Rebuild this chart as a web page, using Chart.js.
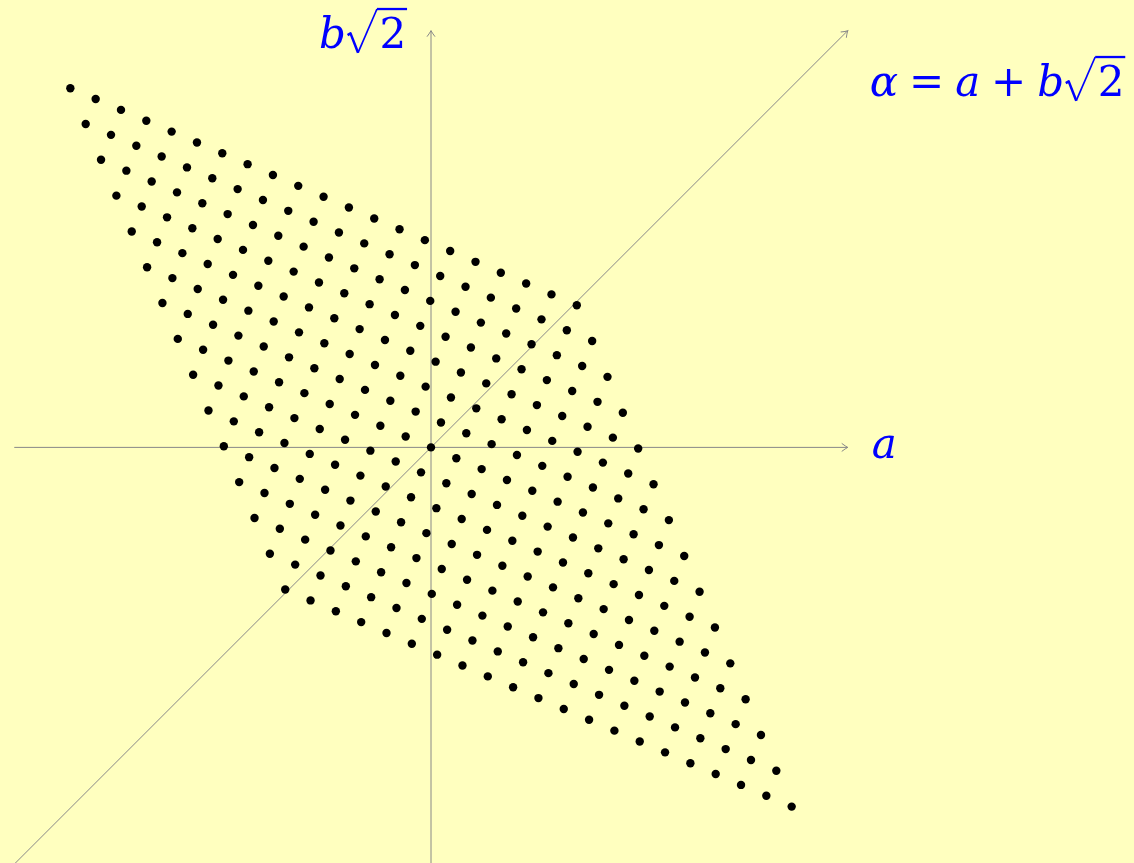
<!DOCTYPE html>
<html>
<head>
<meta charset="utf-8">
<script src="https://cdn.jsdelivr.net/npm/chart.js@4.4.1/dist/chart.umd.min.js"></script>
<style>
  html, body { margin: 0; padding: 0; background: #ffffbf; }
  #wrap { width: 1134px; height: 863px; }
</style>
</head>
<body>
<div id="wrap"><canvas id="lattice"></canvas></div>
<script>
// integer parts of the numbers a + b√2 that are plotted
const aValues = [-10, -9, -8, -7, -6, -5, -4, -3, -2, -1, 0, 1, 2, 3, 4, 5, 6, 7, 8, 9, 10];
const bValues = [-7, -6, -5, -4, -3, -2, -1, 0, 1, 2, 3, 4, 5, 6, 7];

// half-length of the three axes, in plot units
const axisReach = 28.8;
// the conjugate a - b√2 is drawn stretched along the anti-diagonal
const conjStretch = 2.5;

const SQ2 = Math.SQRT2;
const BLUE = '#0000ff';
const AXIS = '#888888';
const FONT = '"DejaVu Serif", serif';

// (a, b√2) with the conjugate direction stretched
function place(a, b) {
  const alpha = a + b * SQ2;
  const conj = a - b * SQ2;
  return { x: (alpha + conjStretch * conj) / 2, y: (alpha - conjStretch * conj) / 2 };
}

const points = [];
bValues.forEach(b => aValues.forEach(a => points.push(place(a, b))));

const axisH = [{ x: -axisReach, y: 0 }, { x: axisReach, y: 0 }];
const axisV = [{ x: 0, y: -axisReach }, { x: 0, y: axisReach }];
const axisD = [{ x: -axisReach, y: -axisReach }, { x: axisReach, y: axisReach }];

function axisSet(data) {
  return {
    data, showLine: true, borderColor: AXIS, borderWidth: 1,
    pointRadius: 0, order: 2
  };
}

function arrowHead(ctx, x0, y0, x1, y1) {
  const ang = Math.atan2(y1 - y0, x1 - x0);
  ctx.save();
  ctx.translate(x1, y1);
  ctx.rotate(ang);
  ctx.strokeStyle = AXIS;
  ctx.lineWidth = 1;
  ctx.beginPath();
  ctx.moveTo(-6, -4);
  ctx.quadraticCurveTo(-2, -1, 0, 0);
  ctx.quadraticCurveTo(-2, 1, -6, 4);
  ctx.stroke();
  ctx.restore();
}

// radical sign over a digit, returns the x after it
function surd(ctx, x, base, S, digit) {
  const top = base - 0.92 * S;
  ctx.strokeStyle = BLUE;
  ctx.lineCap = 'butt';
  ctx.lineJoin = 'round';
  ctx.lineWidth = 0.06 * S;
  ctx.beginPath();
  ctx.moveTo(x, base - 0.30 * S);
  ctx.lineTo(x + 0.07 * S, base - 0.34 * S);
  ctx.lineTo(x + 0.25 * S, base + 0.12 * S);
  ctx.stroke();
  ctx.lineWidth = 0.04 * S;
  ctx.beginPath();
  ctx.moveTo(x + 0.25 * S, base + 0.12 * S);
  ctx.lineTo(x + 0.7 * S, top);
  ctx.stroke();
  ctx.font = `${S}px ${FONT}`;
  const dx = x + 0.76 * S;
  ctx.fillText(digit, dx, base);
  const end = dx + ctx.measureText(digit).width;
  ctx.lineWidth = 0.055 * S;
  ctx.beginPath();
  ctx.moveTo(x + 0.7 * S, top);
  ctx.lineTo(end + 0.02 * S, top);
  ctx.stroke();
  return end;
}

function mathText(ctx, x, base, S, parts) {
  ctx.save();
  ctx.fillStyle = BLUE;
  ctx.textBaseline = 'alphabetic';
  ctx.textAlign = 'left';
  const gap = 0.26 * S;
  parts.forEach(p => {
    if (p[0] === 'v') {
      ctx.font = `italic ${S}px ${FONT}`;
      ctx.fillText(p[1], x, base);
      x += ctx.measureText(p[1]).width;
    } else if (p[0] === 'o') {
      ctx.font = `${S}px ${FONT}`;
      x += gap;
      ctx.fillText(p[1], x, base);
      x += ctx.measureText(p[1]).width + gap;
    } else {
      x = surd(ctx, x + 0.04 * S, base, S, p[1]);
    }
  });
  ctx.restore();
  return x;
}

const decor = {
  id: 'decor',
  beforeDraw(chart) {
    const c = chart.ctx;
    c.save();
    c.fillStyle = '#ffffbf';
    c.fillRect(0, 0, chart.width, chart.height);
    c.restore();
  },
  afterDatasetsDraw(chart) {
    const c = chart.ctx, sx = chart.scales.x, sy = chart.scales.y;
    [axisH, axisV, axisD].forEach(seg => {
      arrowHead(c, sx.getPixelForValue(seg[0].x), sy.getPixelForValue(seg[0].y),
        sx.getPixelForValue(seg[1].x), sy.getPixelForValue(seg[1].y));
    });
  },
  afterDraw(chart) {
    const c = chart.ctx, sx = chart.scales.x, sy = chart.scales.y;
    const S = 42;
    // label of the horizontal axis
    mathText(c, sx.getPixelForValue(axisReach) + 24, sy.getPixelForValue(0) + 11, S, [['v', 'a']]);
    // label of the vertical axis, to the left of its tip
    mathText(c, sx.getPixelForValue(0) - 112, sy.getPixelForValue(axisReach) + 17, S,
      [['v', 'b'], ['r', '2']]);
    // label of the diagonal
    mathText(c, sx.getPixelForValue(axisReach) + 22, sy.getPixelForValue(axisReach) + 65, S,
      [['v', 'α'], ['o', '='], ['v', 'a'], ['o', '+'], ['v', 'b'], ['r', '2']]);
  }
};

new Chart(document.getElementById('lattice'), {
  type: 'scatter',
  data: {
    datasets: [
      {
        data: points, order: 1,
        pointRadius: 4.2, pointBorderWidth: 0,
        pointBackgroundColor: '#000', pointBorderColor: '#000'
      },
      axisSet(axisH), axisSet(axisV), axisSet(axisD)
    ]
  },
  options: {
    responsive: true,
    maintainAspectRatio: false,
    animation: false,
    events: [],
    layout: { padding: 0, autoPadding: false },
    plugins: { legend: { display: false }, tooltip: { enabled: false } },
    scales: {
      x: { type: 'linear', min: -29.786, max: 48.583, display: false },
      y: { type: 'linear', min: -28.721, max: 30.919, display: false }
    }
  },
  plugins: [decor]
});
</script>
</body>
</html>
